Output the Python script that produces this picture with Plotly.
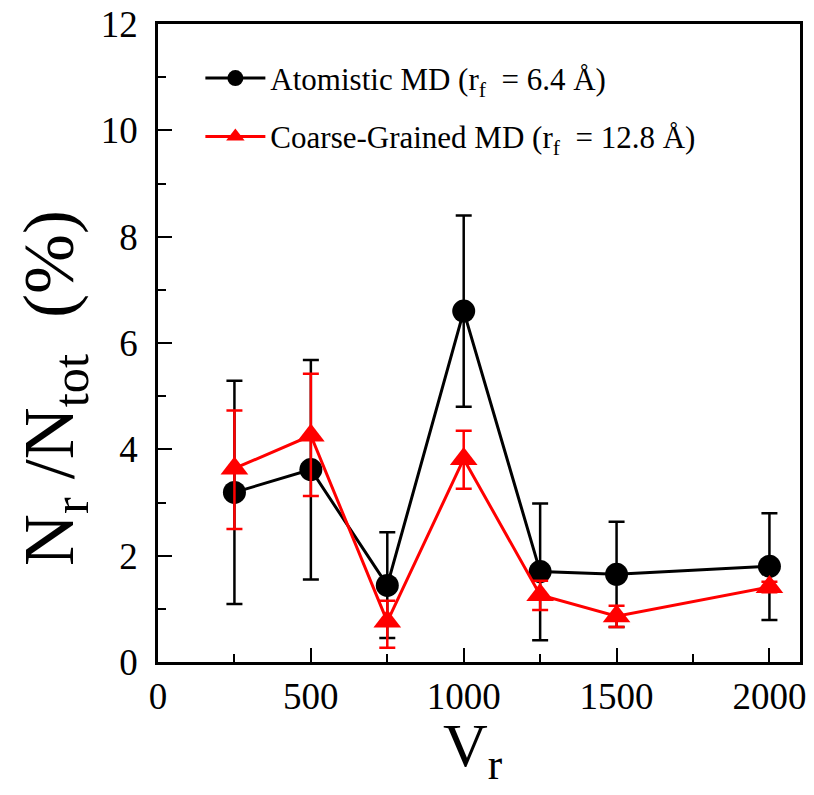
import plotly.graph_objects as go

# Data
vr = [250, 500, 750, 1000, 1250, 1500, 2000]

atom_y = [3.19, 3.62, 1.44, 6.60, 1.70, 1.65, 1.80]
atom_hi = [5.29, 5.68, 2.44, 8.40, 2.98, 2.64, 2.80]
atom_lo = [1.09, 1.55, 0.45, 4.80, 0.41, 0.66, 0.79]

cg_y = [3.64, 4.26, 0.76, 3.82, 1.26, 0.86, 1.41]
cg_hi = [4.73, 5.42, 1.15, 4.35, 1.53, 1.06, 1.51]
cg_lo = [2.50, 3.12, 0.27, 3.26, 0.98, 0.66, 1.31]

xticks = [0, 500, 1000, 1500, 2000]
yticks = [0, 2, 4, 6, 8, 10, 12]

x_title = "V<sub>r</sub>"
y_title = "N<sub>r</sub> /N<sub>tot</sub>  (%)"

FONT = "Liberation Serif"


def err(y, hi, lo):
    return ([h - v for h, v in zip(hi, y)], [v - l for v, l in zip(y, lo)])


ap, am = err(atom_y, atom_hi, atom_lo)
cp, cm = err(cg_y, cg_hi, cg_lo)

fig = go.Figure()
fig.add_trace(go.Scatter(
    x=vr, y=atom_y, mode="lines+markers",
    name="Atomistic MD (r<sub>f</sub>  = 6.4 Å)",
    legendgroup="a",
    line=dict(color="black", width=3),
    marker=dict(symbol="circle", size=23, color="black"),
    error_y=dict(type="data", symmetric=False, array=ap, arrayminus=am,
                 color="black", thickness=2.5, width=8),
))
fig.add_trace(go.Scatter(
    x=vr, y=cg_y, mode="lines+markers",
    name="Coarse-Grained MD (r<sub>f</sub>  = 12.8 Å)",
    legendgroup="b",
    line=dict(color="#ff0000", width=3),
    marker=dict(symbol="triangle-up", size=24, color="#ff0000"),
    error_y=dict(type="data", symmetric=False, array=cp, arrayminus=cm,
                 color="#ff0000", thickness=2.5, width=8),
))

axis_common = dict(
    showline=True, linecolor="black", linewidth=2.5, mirror=True,
    ticks="inside", ticklen=14, tickwidth=2, tickcolor="black",
    showgrid=False, zeroline=False, automargin=False,
    tickfont=dict(family=FONT, size=37, color="black"),
)

fig.update_xaxes(
    range=[0, 2100], tickvals=xticks, ticktext=[str(t) for t in xticks],
    minor=dict(dtick=250, ticks="inside", ticklen=8, tickwidth=2, tickcolor="black"),
    ticklabelstandoff=0,
    **axis_common,
)
fig.update_yaxes(
    range=[0, 12], tickvals=yticks, ticktext=[str(t) for t in yticks],
    minor=dict(dtick=1, ticks="inside", ticklen=8, tickwidth=2, tickcolor="black"),
    ticklabelstandoff=10,
    **axis_common,
)

fig.add_annotation(
    text=x_title, xref="paper", yref="paper", x=0.49, y=-0.074,
    xanchor="center", yanchor="top", showarrow=False,
    font=dict(family=FONT, size=62, color="black"),
)
fig.add_annotation(
    text=y_title, xref="paper", yref="paper", x=-0.163, y=0.43,
    xanchor="center", yanchor="middle", showarrow=False, textangle=-90,
    font=dict(family=FONT, size=72, color="black"),
)

fig.update_layout(
    width=814, height=795,
    margin=dict(l=158, r=14, t=24, b=133),
    paper_bgcolor="white", plot_bgcolor="white",
    showlegend=True,
    legend=dict(
        x=0.066, y=0.957, xanchor="left", yanchor="top",
        font=dict(family=FONT, size=31, color="black"),
        bgcolor="rgba(0,0,0,0)", borderwidth=0,
        tracegroupgap=15, itemwidth=60,
    ),
)

fig.write_html(
    "out.html",
    config={"displayModeBar": False},
    post_script="document.body.style.margin='0';document.body.style.padding='0';",
)
